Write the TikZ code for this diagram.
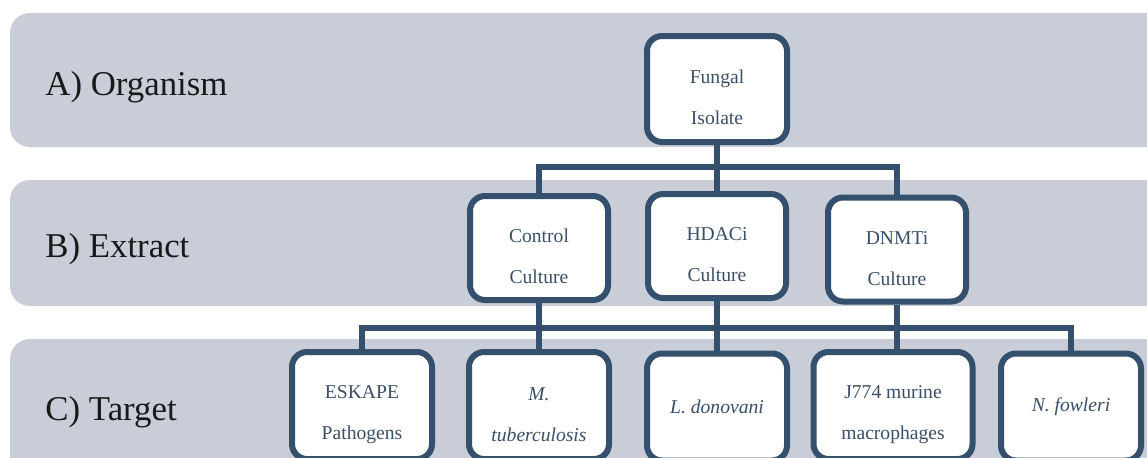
\documentclass[tikz,border=0pt]{standalone}
\usepackage{fontspec}
\setmainfont{Liberation Serif}
\definecolor{band}{HTML}{C8CDD7}
\definecolor{edge}{HTML}{34506D}
\definecolor{ink}{HTML}{3A4F66}
\newcommand{\duo}[2]{\rule{0pt}{15.5pt}#1\\#2}
\tikzset{box/.style={draw=edge,line width=3pt,fill=white,rounded corners=7.5pt,minimum width=70pt,minimum height=53.5pt,inner sep=0pt,text=ink,align=center,font=\fontsize{9.8}{20.5}\selectfont}}
\tikzset{lab/.style={anchor=west,inner sep=0pt,text=black!90,font=\fontsize{17.4}{17.4}\selectfont}}
\tikzset{bar/.style={fill=band,rounded corners=10pt}}
\tikzset{conn/.style={draw=edge,line width=2.6pt}}

\begin{document}
\begin{tikzpicture}[x=0.5pt,y=-0.5pt]
\useasboundingbox (0,0) rectangle (1147,457);
\fill[bar] (10,13) rectangle (1190,147);
\fill[bar] (10,180) rectangle (1190,306);
\fill[bar] (10,339) rectangle (1190,520);

\node[lab] (orgl) at (45,87) {A) Organism};
\node[lab] (extl) at (45,249) {B) Extract};
\node[lab] (tarl) at (45,412) {C) Target};

\node[box,minimum height=53pt] (fungal) at (717,89) {\duo{Fungal}{Isolate}};
\node[box,minimum width=69pt,minimum height=52pt] (control) at (539,248) {\duo{Control}{Culture}};
\node[box,minimum width=69pt,minimum height=52pt] (hdac) at (717,246) {\duo{HDACi}{Culture}};
\node[box,minimum width=69pt,minimum height=52pt] (dnmt) at (897,249.5) {\duo{DNMTi}{Culture}};

\node[box] (eskape) at (362,405.5) {\duo{ESKAPE}{Pathogens}};
\node[box] (mtb) at (539,405.5) {\duo{\textit{M.}}{\textit{tuberculosis}}};
\node[box] (ldon) at (717,407) {\textit{L. donovani}};
\node[box,minimum width=79.5pt] (jmac) at (893,405.5) {\duo{J774 murine}{macrophages}};
\node[box] (nfow) at (1071,407) {\textit{N. fowleri}};

\coordinate (busa) at (0,167);
\coordinate (busb) at (0,328);

\draw[conn] (fungal.south) -- (hdac.north);
\draw[conn] (control.north) |- (dnmt.north |- busa) -- (dnmt.north);
\draw[conn] (eskape.north) |- (nfow.north |- busb) -- (nfow.north);
\draw[conn] (control.south) -- (mtb.north);
\draw[conn] (hdac.south) -- (ldon.north);
\draw[conn] (dnmt.south) -- (dnmt.south |- jmac.north);
\end{tikzpicture}
\end{document}
